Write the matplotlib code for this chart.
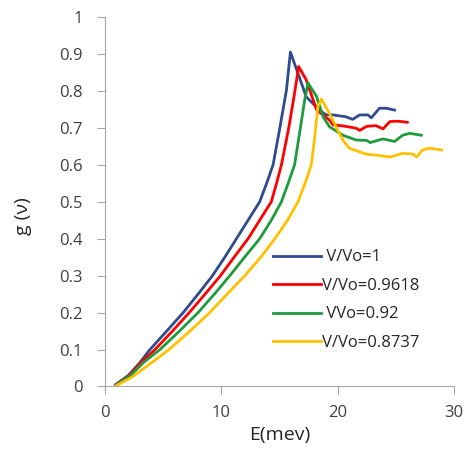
import matplotlib.pyplot as plt

# Données : E (meV) et g(v) pour chaque V/Vo
e_1 = [0.9, 2.0, 3.0, 3.86, 5.3, 6.72, 8.0, 9.24, 10.3, 11.3, 12.3, 13.3, 13.9, 14.45, 15.0, 15.6, 15.94,
       16.7, 17.3, 18.45, 19.0, 19.6, 20.7, 21.3, 21.9, 22.6, 22.9, 23.6, 24.2, 24.9]
g_1 = [0.005, 0.03, 0.065, 0.1, 0.15, 0.2, 0.25, 0.3, 0.35, 0.4, 0.45, 0.5, 0.55, 0.6, 0.694, 0.802, 0.905,
       0.838, 0.784, 0.748, 0.735, 0.735, 0.73, 0.723, 0.735, 0.735, 0.727, 0.753, 0.753, 0.748]

e_2 = [0.95, 2.1, 3.1, 4.29, 5.8, 7.24, 8.6, 9.93, 11.1, 12.3, 13.3, 14.3, 14.75, 15.17, 15.8, 16.3, 16.65,
       17.3, 18.2, 19.3, 19.6, 20.5, 21.6, 21.9, 22.5, 23.3, 23.9, 24.5, 25.2, 26.0]
g_2 = [0.005, 0.03, 0.065, 0.1, 0.15, 0.2, 0.25, 0.3, 0.35, 0.4, 0.45, 0.5, 0.55, 0.6, 0.7, 0.794, 0.866,
       0.83, 0.748, 0.721, 0.708, 0.705, 0.699, 0.693, 0.704, 0.706, 0.697, 0.717, 0.718, 0.715]

e_3 = [1.0, 2.2, 3.3, 4.72, 6.4, 8.0, 9.4, 10.73, 12.0, 13.3, 14.3, 15.17, 15.75, 16.3, 16.8, 17.17, 17.45,
       18.2, 18.75, 19.3, 20.45, 21.6, 22.5, 22.8, 23.9, 24.9, 25.6, 26.2, 27.2]
g_3 = [0.005, 0.03, 0.065, 0.1, 0.15, 0.2, 0.25, 0.3, 0.35, 0.4, 0.45, 0.5, 0.55, 0.6, 0.7, 0.775, 0.822,
       0.784, 0.73, 0.703, 0.68, 0.667, 0.666, 0.66, 0.67, 0.663, 0.68, 0.685, 0.68]

e_4 = [1.0, 2.3, 3.6, 5.5, 7.3, 9.0, 10.5, 12.02, 13.4, 14.6, 15.7, 16.6, 17.2, 17.74, 18.05, 18.3, 18.6,
       19.3, 20.0, 20.5, 21.0, 22.45, 23.6, 24.5, 25.6, 26.5, 26.8, 27.3, 27.9, 28.95]
g_4 = [0.003, 0.025, 0.055, 0.1, 0.15, 0.2, 0.25, 0.3, 0.35, 0.4, 0.45, 0.5, 0.55, 0.6, 0.68, 0.757, 0.778,
       0.739, 0.694, 0.665, 0.645, 0.629, 0.625, 0.621, 0.631, 0.629, 0.621, 0.64, 0.645, 0.64]

etiquettes = [' V/Vo=1', 'V/Vo=0.9618', ' VVo=0.92', 'V/Vo=0.8737']
couleurs = ['#2F4B8F', '#FF0000', '#1E9B3C', '#FFC000']

plt.rcParams['font.family'] = ['Open Sans', 'DejaVu Sans']

fig = plt.figure(figsize=(4.65, 4.59), dpi=100)
ax = fig.add_axes([0.226, 0.158, 0.75, 0.805])

for e, g, lab, c in zip([e_1, e_2, e_3, e_4], [g_1, g_2, g_3, g_4], etiquettes, couleurs):
    ax.plot(e, g, color=c, lw=2.0, label=lab)

ax.set_xlim(0, 30)
ax.set_ylim(0, 1)
ax.set_xticks([0, 10, 20, 30])
ax.set_yticks([i / 10 for i in range(11)])
ax.set_yticklabels(['0'] + [f'{i/10:.1f}' for i in range(1, 10)] + ['1'])

for s in ['top', 'right']:
    ax.spines[s].set_visible(False)
for s in ['left', 'bottom']:
    ax.spines[s].set_color('#A6A6A6')
ax.tick_params(direction='out', length=6, color='#A6A6A6', labelcolor='#404040', labelsize=12)
ax.tick_params(axis='y', pad=10)
ax.tick_params(axis='x', pad=7)

ax.set_xlabel('E(mev)', fontsize=14, color='#262626', labelpad=4)
ax.set_ylabel('g (ν)', fontsize=14, color='#262626')
ax.yaxis.set_label_coords(-0.209, 0.46)

leg = ax.legend(loc='upper left', bbox_to_anchor=(0.481, 0.371), frameon=False, fontsize=12,
                handlelength=2.9, handletextpad=0.05, labelspacing=0.75, borderpad=0, borderaxespad=0)
for t in leg.get_texts():
    t.set_color('#262626')

fig.savefig('out.png', dpi=100)
